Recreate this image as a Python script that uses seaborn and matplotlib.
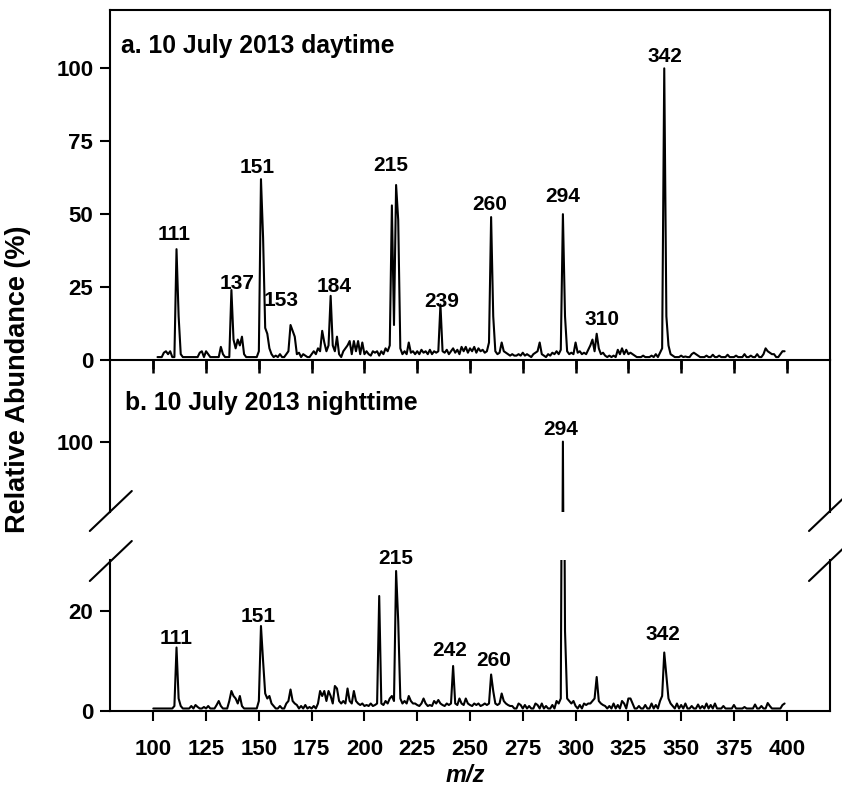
import numpy as np
import pandas as pd
import matplotlib
matplotlib.use("Agg")
import matplotlib.pyplot as plt
import seaborn as sns

sns.set_theme(style="ticks", rc={"text.color": "black", "axes.labelcolor": "black",
                                 "xtick.color": "black", "ytick.color": "black",
                                 "axes.edgecolor": "black"})
plt.rcParams["font.family"] = ["Liberation Sans", "DejaVu Sans"]
plt.rcParams["font.weight"] = "bold"

# --- a. daytime spectrum (m/z, relative abundance %) ---
day_start = 102
day_base = 1.0
day_mz = [105, 106, 107, 108, 111, 112, 113, 122, 123, 125, 126, 132, 133,
          137, 138, 139, 140, 141, 142, 143, 150, 151, 152, 153, 154, 155, 156, 158, 160,
          163, 164, 165, 166, 167, 168, 169, 171, 172, 175, 176, 177, 178, 179, 180,
          181, 182, 183, 184, 185, 186, 187, 188, 190, 191, 192, 193, 194, 195, 196,
          197, 198, 199, 200, 201, 202, 203, 204, 205, 206, 207, 208, 209, 210, 211,
          212, 213, 214, 215, 216, 217, 218, 219, 220, 221, 222, 223, 224, 225, 226,
          227, 228, 229, 230, 231, 232, 233, 234, 235, 236, 237, 238, 239, 240, 241,
          242, 243, 244, 245, 246, 247, 248, 249, 250, 251, 252, 253, 254, 255, 256,
          257, 258, 259, 260, 261, 262, 263, 264, 265, 266, 267, 268, 269, 270, 271,
          272, 273, 274, 275, 276, 277, 278, 280, 281, 282, 283, 284, 285, 287, 288,
          289, 290, 291, 292, 293, 294, 295, 296, 297, 298, 299, 300, 301, 302, 303,
          304, 305, 306, 307, 308, 309, 310, 311, 312, 313, 314, 316, 318, 320, 321,
          322, 323, 324, 325, 326, 327, 328, 332, 336, 338, 340, 341, 342, 343, 344,
          345, 346, 350, 352, 355, 356, 357, 358, 362, 365, 368, 372, 376, 380, 383,
          386, 389, 390, 391, 392, 393, 394, 397, 398, 399]
day_val = [2.5, 3, 2, 3, 38, 15, 2, 2.5, 3, 3, 2, 4.5, 2,
           24, 7, 4, 7, 5, 8, 2, 3, 62, 42, 11, 9, 4, 2, 1.5, 2,
           2, 3, 12, 10, 8, 2, 2.5, 2, 1.5, 2, 3, 2, 4, 3, 10,
           6, 3, 5, 22, 5, 3, 8, 2, 3, 4, 5, 6.5, 2, 6.5, 3,
           6.5, 2, 6, 2, 3, 2, 1.5, 3, 2.5, 3, 1.5, 3, 2, 4, 3,
           5, 53, 12, 60, 48, 4, 2, 3, 2, 6, 2.5, 3, 2, 3, 2,
           3.5, 2.5, 3, 2, 3.5, 2, 3, 2.5, 3, 19, 3, 2.5, 3.5, 2, 3,
           4, 2.5, 3.5, 2, 4.5, 3, 4.5, 2.5, 4, 3, 4.5, 2.5, 4, 3, 3.5,
           2.5, 3, 6, 49, 15, 3, 2, 2.5, 6, 3, 2.5, 2, 1.5, 2, 1.5,
           1.5, 2, 1.5, 2.5, 1.5, 2, 1.5, 2, 2.5, 3, 6, 2, 1.5, 2, 1.5,
           2.5, 2, 3, 2, 3.5, 50, 15, 3, 2, 2.5, 2, 6, 2.5, 3, 2,
           2.5, 2, 3.5, 5, 7, 3, 9, 4, 2, 2.5, 1.5, 1.5, 1.5, 3.5, 2,
           4, 2, 3.5, 2, 2.5, 2, 1.5, 1.5, 1.5, 2, 2.5, 4, 100, 15, 5,
           2, 1.5, 1.5, 1.2, 2, 2.5, 2, 1.5, 1.5, 1.8, 1.5, 1.8, 1.5, 2, 1.5,
           2, 2, 4, 3, 2.5, 2, 2, 2, 3, 3]

# --- b. nighttime spectrum ---
night_start = 100
night_base = 0.5
night_mz = [110, 111, 112, 113, 118, 120, 121, 124, 126, 130, 131, 132, 136, 137,
            138, 139, 140, 141, 142, 150, 151, 152, 153, 154, 155, 156, 157, 160,
            163, 164, 165, 166, 167, 168, 170, 172, 174, 176, 178, 179, 180, 181,
            182, 183, 184, 185, 186, 187, 188, 189, 190, 191, 192, 193, 194, 195,
            196, 197, 198, 199, 200, 201, 202, 203, 204, 205, 206, 207, 208, 209,
            210, 211, 212, 213, 214, 215, 216, 217, 218, 219, 220, 221, 222, 223,
            224, 225, 226, 227, 228, 229, 230, 231, 232, 233, 234, 235, 236, 237,
            238, 239, 240, 241, 242, 243, 244, 245, 246, 247, 248, 249, 250, 251,
            252, 253, 254, 255, 256, 257, 258, 259, 260, 261, 262, 263, 264, 265,
            266, 267, 268, 269, 270, 273, 274, 276, 278, 281, 282, 284, 286, 289,
            291, 292, 293, 294, 295, 296, 297, 298, 299, 300, 302, 304, 305, 306,
            307, 308, 309, 310, 311, 312, 313, 314, 316, 318, 320, 322, 323, 325,
            326, 327, 330, 333, 336, 338, 340, 341, 342, 343, 344, 345, 346, 348,
            350, 352, 355, 358, 360, 362, 364, 366, 370, 375, 380, 385, 388, 391,
            392, 398, 399]
night_val = [1, 12.7, 2.5, 1, 1, 1.2, 0.8, 0.8, 1, 1.2, 2, 1, 2, 4,
             3, 2.5, 1.5, 3, 1, 2, 17, 10, 3.5, 2.5, 3, 1.5, 1, 1,
             1.5, 2, 4.3, 2, 1.5, 1.2, 1, 1.2, 0.8, 1, 1.5, 4, 3, 4,
             2, 4, 3, 1.5, 5, 4.5, 2, 1.5, 2, 1.5, 4.5, 2, 1.5, 4,
             2, 1.5, 1.2, 1.5, 1, 1.2, 1, 1.5, 1, 1.2, 1.5, 23, 1.5, 1.2,
             2, 1.5, 2.5, 3, 2, 28, 18, 2.5, 1.5, 2, 1.5, 3, 2, 1.5,
             1.5, 1.2, 1, 1.5, 2.5, 1.5, 1, 1.2, 1, 2, 1.5, 2.2, 1.5, 1.2,
             1, 1.5, 1.2, 1.5, 9, 1.5, 1.2, 2.5, 1.5, 1.2, 2.5, 1.5, 1.2, 1,
             1.5, 1.2, 1.5, 1, 1.2, 1.5, 1.2, 1.5, 7.3, 4, 1.5, 1.2, 1.5, 3.5,
             2, 1.5, 1.2, 1, 1, 1.5, 1.2, 1.2, 1, 1.5, 1.2, 1.5, 1, 1.2,
             2, 1.5, 2.5, 100, 16, 2.5, 2, 1.5, 2, 1, 1.2, 1.5, 1.2, 1.5,
             1.5, 2, 2.5, 6.8, 2, 1.5, 1.2, 1, 1, 1.5, 1.2, 2, 1.5, 2.5,
             2.5, 1.5, 1, 1.2, 1.5, 1.2, 2, 3, 11.7, 7, 2.5, 1.5, 1, 1.5,
             1.2, 1.5, 1, 1.3, 1, 1.5, 1.2, 1.5, 1, 1.2, 0.8, 1.3, 1, 1.6,
             1, 1.2, 1.5]

day_labels = ["111", "137", "151", "153", "184", "215", "239", "260", "294", "310", "342"]
day_label_x = [110, 139.5, 149.3, 160.7, 185.5, 212.5, 236.6, 259.1, 293.9, 312.4, 342.3]
day_label_y = [41, 24.5, 64.2, 18.4, 23.3, 64.8, 18.2, 51.4, 54, 11.9, 102.3]

night_labels = ["111", "151", "215", "242", "260", "342"]
night_label_x = [110.7, 149.7, 215, 240.4, 261.2, 341.6]
night_label_y = [13.5, 17.8, 29.5, 10.9, 8.9, 14.1]
night_top_label = "294"
night_top_label_x = 293.1
night_top_label_y = 101.3


def spectrum(start, base, mz, val):
    full = pd.DataFrame({"mz": np.arange(start, 400), "abund": base})
    full = full.set_index("mz")
    full.loc[mz, "abund"] = val
    return full.reset_index()


day_df = spectrum(day_start, day_base, day_mz, day_val)
night_df = spectrum(night_start, night_base, night_mz, night_val)

W, H = 842, 797
fig = plt.figure(figsize=(W / 100, H / 100), dpi=100)


def fx(px):
    return px / W


def fy(py):
    return 1 - py / H


left, right = 110, 830
ax_a = fig.add_axes([fx(left), fy(360), fx(right - left), fy(10) - fy(360)])
ax_bt = fig.add_axes([fx(left), fy(511.7), fx(right - left), fy(360) - fy(511.7)])
ax_bb = fig.add_axes([fx(left), fy(711), fx(right - left), fy(560) - fy(711)])
ax_bt.patch.set_visible(False)

lw = 1.5
sns.lineplot(data=day_df, x="mz", y="abund", ax=ax_a, color="black", lw=lw, estimator=None)
for ax in (ax_bt, ax_bb):
    sns.lineplot(data=night_df, x="mz", y="abund", ax=ax, color="black", lw=lw, estimator=None)

xlim = (79.5, 420.5)
xt = np.arange(100, 401, 25)
tick_fs = 16
for ax in (ax_a, ax_bt, ax_bb):
    ax.set_xlim(*xlim)
    ax.set_xticks(xt)
    ax.set_xlabel("")
    ax.set_ylabel("")
    for s in ax.spines.values():
        s.set_linewidth(1.5)
        s.set_color("black")
    ax.tick_params(axis="both", width=1.5, length=7, color="black",
                   labelsize=tick_fs, pad=5, labelcolor="black")
    for t in ax.get_xticklabels() + ax.get_yticklabels():
        t.set_fontweight("bold")

ax_a.set_ylim(0, 120)
ax_a.set_yticks([0, 25, 50, 75, 100])
# ticks on the shared middle line, pointing down into panel b
ax_a.tick_params(axis="x", bottom=True, direction="out", length=9, width=1.8,
                 labelbottom=False)

ax_bt.set_ylim(86, 116.3)
ax_bt.set_yticks([100])
ax_bt.spines["bottom"].set_visible(False)
ax_bt.spines["top"].set_visible(False)
ax_bt.tick_params(axis="x", bottom=False, labelbottom=False)
ax_bt.vlines(xt, 1 - 9 / 151.7, 1, transform=ax_bt.get_xaxis_transform(),
             color="black", lw=1.8, clip_on=False)

ax_bb.set_ylim(0, 30.2)
ax_bb.set_yticks([0, 20])
ax_bb.spines["top"].set_visible(False)
ax_bb.tick_params(axis="x", pad=13)

ann_fs = 15
for lab, x, y in zip(day_labels, day_label_x, day_label_y):
    ax_a.text(x, y, lab, ha="center", va="baseline", fontsize=ann_fs, fontweight="bold")
for lab, x, y in zip(night_labels, night_label_x, night_label_y):
    ax_bb.text(x, y, lab, ha="center", va="baseline", fontsize=ann_fs, fontweight="bold")
ax_bt.text(night_top_label_x, night_top_label_y, night_top_label, ha="center",
           va="baseline", fontsize=ann_fs, fontweight="bold")

fig.text(fx(120.7), fy(53.3), "a. 10 July 2013 daytime", fontsize=17.8,
         fontweight="bold", va="baseline", ha="left")
fig.text(fx(125), fy(410), "b. 10 July 2013 nighttime", fontsize=17.8,
         fontweight="bold", va="baseline", ha="left")

fig.text(fx(18), fy(379), "Relative Abundance (%)", rotation=90, fontsize=19.5,
         fontweight="bold", ha="center", va="center")
fig.text(fx(465), fy(776), "m/z", fontsize=17, fontweight="bold", style="italic",
         ha="center", va="center")

# axis break marks
for sx in (left + 0.8, right):
    for sy in (511, 561):
        fig.add_artist(plt.Line2D([fx(sx - 21), fx(sx + 21)], [fy(sy + 20), fy(sy - 20)],
                                  transform=fig.transFigure, color="black", lw=1.5,
                                  clip_on=False))

fig.savefig("out.png", dpi=100)
